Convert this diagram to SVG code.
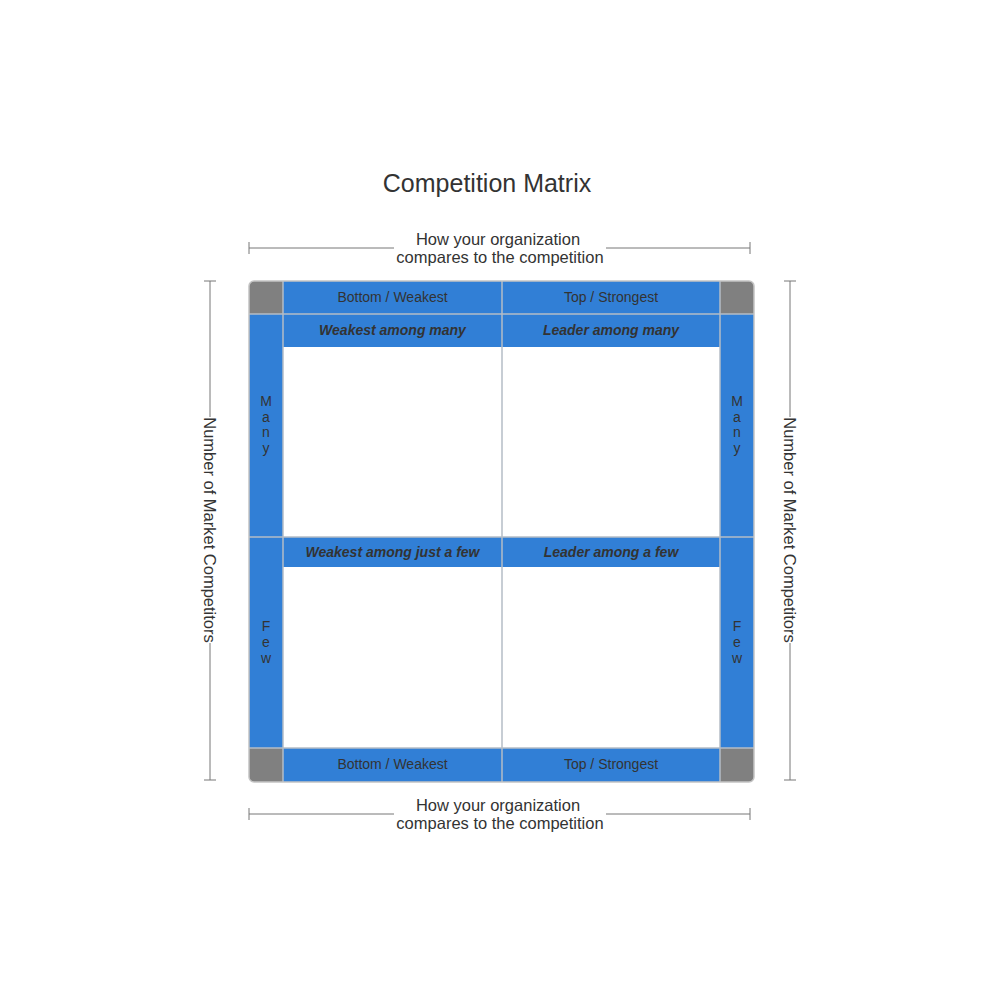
<svg xmlns="http://www.w3.org/2000/svg" width="1000" height="1000" viewBox="0 0 1000 1000">
<style>
  text { font-family: "Liberation Sans", Arial, sans-serif; fill: #333333; }
  .title { font-size: 25px; }
  .axis { font-size: 16.5px; }
  .hdr { font-size: 14px; }
  .quad { font-size: 14px; font-weight: bold; font-style: italic; }
  .side { font-size: 14px; }
  .blue { fill: #317fd6; }
  .gray { fill: #808080; }
  .grid { stroke: #b4bcc6; stroke-width: 1.5; fill: none; }
  .brk { stroke: #777777; stroke-width: 1; fill: none; }
</style>
<defs>
  <clipPath id="frameClip">
    <rect x="249" y="281" width="505" height="501" rx="5" ry="5"/>
  </clipPath>
</defs>
<rect width="1000" height="1000" fill="#ffffff"/>
<text id="title" class="title" x="487" y="192" text-anchor="middle">Competition Matrix</text>

<g id="matrix">
  <g clip-path="url(#frameClip)">
    <rect x="249" y="281" width="505" height="501" fill="#ffffff"/>
    <g id="corners">
      <rect class="gray" x="249" y="281" width="34" height="33"/>
      <rect class="gray" x="720" y="281" width="34" height="33"/>
      <rect class="gray" x="249" y="748" width="34" height="34"/>
      <rect class="gray" x="720" y="748" width="34" height="34"/>
    </g>
    <g id="header-top">
      <rect class="blue" x="283" y="281" width="437" height="33"/>
      <text class="hdr" x="392.5" y="302" text-anchor="middle">Bottom / Weakest</text>
      <text class="hdr" x="611" y="302" text-anchor="middle">Top / Strongest</text>
    </g>
    <g id="header-bottom">
      <rect class="blue" x="283" y="748" width="437" height="34"/>
      <text class="hdr" x="392.5" y="769" text-anchor="middle">Bottom / Weakest</text>
      <text class="hdr" x="611" y="769" text-anchor="middle">Top / Strongest</text>
    </g>
    <g id="side-left">
      <rect class="blue" x="249" y="314" width="34" height="434"/>
      <text class="side" text-anchor="middle"><tspan x="266" y="406">M</tspan><tspan x="266" y="422">a</tspan><tspan x="266" y="437">n</tspan><tspan x="266" y="453">y</tspan></text>
      <text class="side" text-anchor="middle"><tspan x="266" y="631">F</tspan><tspan x="266" y="647">e</tspan><tspan x="266" y="663">w</tspan></text>
    </g>
    <g id="side-right">
      <rect class="blue" x="720" y="314" width="34" height="434"/>
      <text class="side" text-anchor="middle"><tspan x="737" y="406">M</tspan><tspan x="737" y="422">a</tspan><tspan x="737" y="437">n</tspan><tspan x="737" y="453">y</tspan></text>
      <text class="side" text-anchor="middle"><tspan x="737" y="631">F</tspan><tspan x="737" y="647">e</tspan><tspan x="737" y="663">w</tspan></text>
    </g>
    <g id="q-weak-many">
      <rect class="blue" x="283" y="314" width="219" height="33"/>
      <text class="quad" x="392.5" y="335" text-anchor="middle">Weakest among many</text>
    </g>
    <g id="q-lead-many">
      <rect class="blue" x="502" y="314" width="218" height="33"/>
      <text class="quad" x="611" y="335" text-anchor="middle">Leader among many</text>
    </g>
    <g id="q-weak-few">
      <rect class="blue" x="283" y="537" width="219" height="30"/>
      <text class="quad" x="392.5" y="557" text-anchor="middle">Weakest among just a few</text>
    </g>
    <g id="q-lead-few">
      <rect class="blue" x="502" y="537" width="218" height="30"/>
      <text class="quad" x="611" y="557" text-anchor="middle">Leader among a few</text>
    </g>
    <g id="grid-lines">
      <line class="grid" x1="283" y1="281" x2="283" y2="782"/>
      <line class="grid" x1="502" y1="281" x2="502" y2="782"/>
      <line class="grid" x1="720" y1="281" x2="720" y2="782"/>
      <line class="grid" x1="249" y1="314" x2="754" y2="314"/>
      <line class="grid" x1="249" y1="537" x2="754" y2="537"/>
      <line class="grid" x1="249" y1="748" x2="754" y2="748"/>
    </g>
  </g>
  <rect x="249" y="281" width="505" height="501" rx="5" ry="5" fill="none" stroke="#c4c4c4" stroke-width="1.5"/>
</g>

<g id="connectors">
  <g id="bracket-top">
    <path class="brk" d="M249,248 H394 M606,248 H750 M249,242 V254 M750,242 V254"/>
  </g>
  <g id="bracket-bottom">
    <path class="brk" d="M249,814 H394 M606,814 H750 M249,808 V820 M750,808 V820"/>
  </g>
  <g id="bracket-left">
    <path class="brk" d="M210,281 V417 M210,643 V780 M204,281 H216 M204,780 H216"/>
  </g>
  <g id="bracket-right">
    <path class="brk" d="M790,281 V417 M790,643 V780 M784,281 H796 M784,780 H796"/>
  </g>
</g>

<g id="axis-labels">
  <text class="axis" text-anchor="middle"><tspan x="498" y="245">How your organization</tspan><tspan x="500" y="263">compares to the competition</tspan></text>
  <text class="axis" text-anchor="middle"><tspan x="498" y="811">How your organization</tspan><tspan x="500" y="829">compares to the competition</tspan></text>
  <text class="axis" text-anchor="middle" transform="translate(210,530) rotate(90)" x="0" y="6">Number of Market Competitors</text>
  <text class="axis" text-anchor="middle" transform="translate(790,530) rotate(90)" x="0" y="6">Number of Market Competitors</text>
</g>
</svg>
